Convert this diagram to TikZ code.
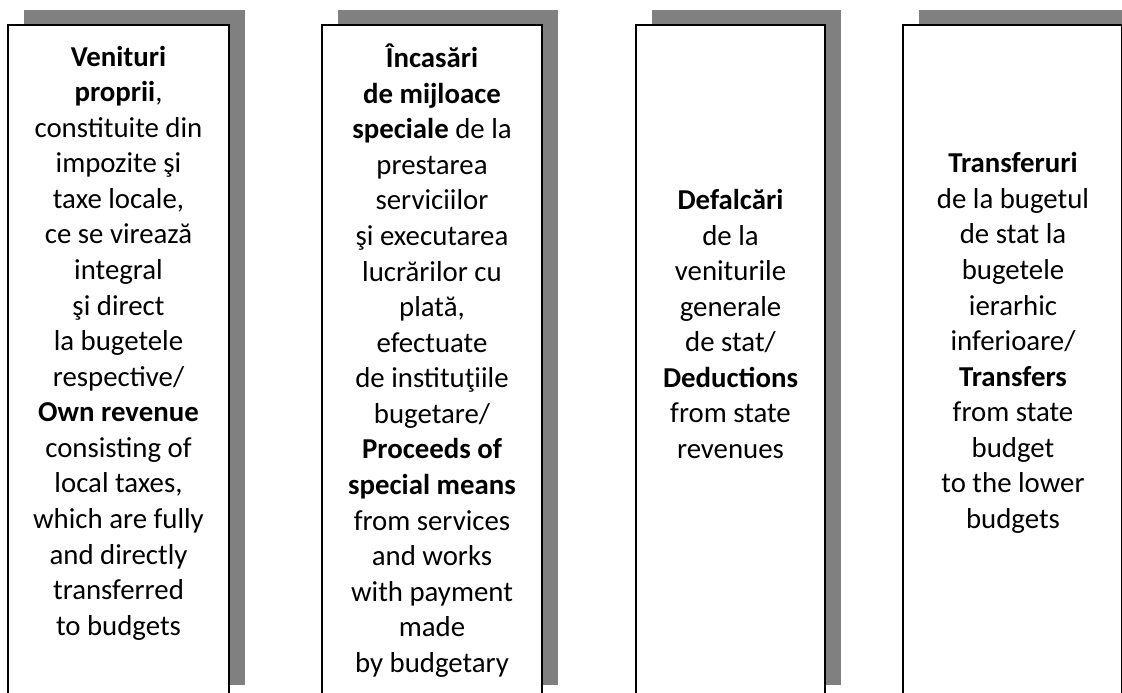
\documentclass[tikz,border=0pt]{standalone}
\usepackage{fontspec}
\setmainfont{Carlito}
\usepackage{tikz}
\usetikzlibrary{math}
\usetikzlibrary{positioning}
\tikzstyle{panel} = [draw=black, line width=1.2pt, fill=white]
\tikzstyle{shade} = [fill=gray, draw=none]
\tikzstyle{txt} = [align=center, inner sep=0pt, font=\fontsize{20.5}{25.3}\selectfont]

\begin{document}
\begin{tikzpicture}

  \tikzmath{\xmax = 28.05; \ymax = 17.325; \ytop = 16.7; \ybot = -0.175; \dx = 0.4; \dy = 0.375;}

  \useasboundingbox (0,0) rectangle (\xmax,\ymax);
  \clip (0,0) rectangle (\xmax,\ymax);

  % Box 1
  \begin{scope}[xshift=0.2cm]
    \tikzmath{\w = 5.525;}
    \fill[shade] (\dx,\ybot+\dy) rectangle (\w+\dx,\ytop+\dy);
    \draw[panel] (0,\ybot) rectangle (\w,\ytop);
    \node[txt] (venituri) at (\w/2,8.75) {\textbf{Venituri}\\ \textbf{proprii},\\ constituite din\\ impozite şi\\ taxe locale,\\ ce se virează\\ integral\\ şi direct\\ la bugetele\\ respective/\\ \textbf{Own revenue}\\ consisting of\\ local taxes,\\ which are fully\\ and directly\\ transferred\\ to budgets};
  \end{scope}

  % Box 2
  \begin{scope}[xshift=8.05cm]
    \tikzmath{\w = 5.5;}
    \fill[shade] (\dx,\ybot+\dy) rectangle (\w+\dx,\ytop+\dy);
    \draw[panel] (0,\ybot) rectangle (\w,\ytop);
    \node[txt] (incasari) at (\w/2,8.31) {\textbf{Încasări}\\ \textbf{de mijloace}\\ \textbf{speciale} de la\\ prestarea\\ serviciilor\\ şi executarea\\ lucrărilor cu\\ plată,\\ efectuate\\ de instituţiile\\ bugetare/\\ \textbf{Proceeds of}\\ \textbf{special means}\\ from services\\ and works\\ with payment\\ made\\ by budgetary};
  \end{scope}

  % Box 3
  \begin{scope}[xshift=15.9cm]
    \tikzmath{\w = 4.725;}
    \fill[shade] (\dx,\ybot+\dy) rectangle (\w+\dx,\ytop+\dy);
    \draw[panel] (0,\ybot) rectangle (\w,\ytop);
    \node[txt] (defalcari) at (\w/2,9.225) {\textbf{Defalcări}\\ de la\\ veniturile\\ generale\\ de stat/\\ \textbf{Deductions}\\ from state\\ revenues};
  \end{scope}

  % Box 4
  \begin{scope}[xshift=22.575cm]
    \tikzmath{\w = 5.465;}
    \fill[shade] (\dx,\ybot+\dy) rectangle (\w+\dx,\ytop+\dy);
    \draw[panel] (0,\ybot) rectangle (\w,\ytop);
    \node[txt] (transferuri) at (2.75,8.75) {\textbf{Transferuri}\\ de la bugetul\\ de stat la\\ bugetele\\ ierarhic\\ inferioare/\\ \textbf{Transfers}\\ from state\\ budget\\ to the lower\\ budgets};
  \end{scope}

\end{tikzpicture}
\end{document}
